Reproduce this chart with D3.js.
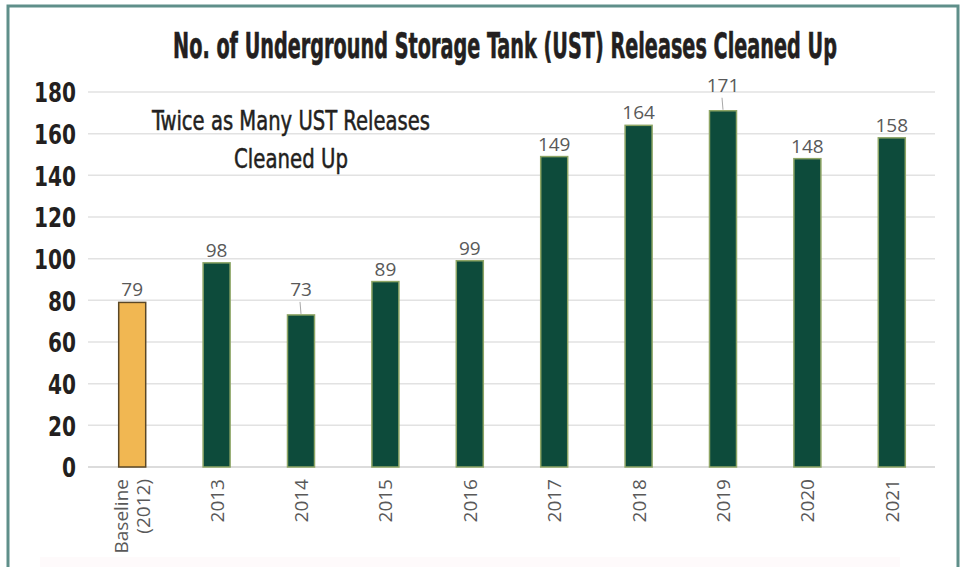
<!DOCTYPE html>
<html>
<head>
<meta charset="utf-8">
<script src="https://cdn.jsdelivr.net/npm/d3@7"></script>
<style>
  body { margin: 0; background: #fff; }
  svg { display: block; }
</style>
</head>
<body>
<svg id="chart" width="964" height="567"></svg>
<script>
// data
var categories = ["Baseline|(2012)", "2013", "2014", "2015", "2016", "2017", "2018", "2019", "2020", "2021"];
var released = [79, 98, 73, 89, 99, 149, 164, 171, 148, 158];
var yTicks = [0, 20, 40, 60, 80, 100, 120, 140, 160, 180];
var leaderCats = ["2014", "2019"];   // labels lifted a bit, with a small leader line
var title = "No. of Underground Storage Tank (UST) Releases Cleaned Up";
var note = ["Twice as Many UST Releases", "Cleaned Up"];

var condensed = "'DejaVu Sans Condensed', 'Liberation Sans Narrow', 'Roboto', sans-serif";
var plain = "'Open Sans', 'Noto Sans', sans-serif";

var svg = d3.select("#chart");

// squeeze a centred text to a given width with a horizontal scale
function fitText(sel, cx, cy, width) {
    var w = sel.node().getComputedTextLength();
    var k = Math.min(1, width / w);
    sel.attr("x", 0).attr("y", 0)
        .attr("transform", "translate(" + cx + "," + cy + ") scale(" + k + ",1)");
}

// frame
svg.append("rect").attr("x", 0).attr("y", 0).attr("width", 964).attr("height", 567).attr("fill", "#fff");
svg.append("rect").attr("x", 40).attr("y", 557).attr("width", 860).attr("height", 10).attr("fill", "#fefafb");
svg.append("path")
    .attr("d", "M8,567 V6 H958 V567")
    .attr("fill", "none")
    .attr("stroke", "#5f8f8a")
    .attr("stroke-width", 3);

var x = d3.scaleBand()
    .domain(categories)
    .range([90, 934])
    .paddingInner(0.68)
    .paddingOuter(0.34);

var y = d3.scaleLinear()
    .domain([0, 180])
    .range([467, 92]);

// grid
svg.append("g")
    .selectAll("line")
    .data(yTicks)
    .join("line")
    .attr("x1", 88).attr("x2", 935)
    .attr("y1", function (d) { return y(d); })
    .attr("y2", function (d) { return y(d); })
    .attr("stroke", function (d) { return d === 0 ? "#d0d0d0" : "#e2e2e2"; })
    .attr("stroke-width", 1.5);

// y axis labels
var yAxis = d3.axisLeft(y).tickValues(yTicks).tickSize(0).tickPadding(0);
var yg = svg.append("g").attr("transform", "translate(76,0)").call(yAxis);
yg.select(".domain").remove();
yg.selectAll("text")
    .attr("font-family", condensed)
    .attr("font-weight", "bold")
    .attr("font-size", 27)
    .attr("fill", "#231f20")
    .attr("dy", "0.36em")
    .attr("textLength", function (d) { return String(d).length * 14; })
    .attr("lengthAdjust", "spacingAndGlyphs");

// bars
svg.append("g")
    .selectAll("rect")
    .data(released)
    .join("rect")
    .attr("x", function (d, i) { return x(categories[i]); })
    .attr("width", x.bandwidth())
    .attr("y", function (d) { return y(d); })
    .attr("height", function (d) { return y(0) - y(d); })
    .attr("fill", function (d, i) { return i === 0 ? "#f1b752" : "#0d4b3b"; })
    .attr("stroke", function (d, i) { return i === 0 ? "#5a4726" : "#8ea565"; })
    .attr("stroke-width", 1.5);

// value labels
function hasLeader(i) { return leaderCats.indexOf(categories[i]) >= 0; }
var lbl = svg.append("g");
released.forEach(function (d, i) {
    var cx = x(categories[i]) + x.bandwidth() / 2;
    if (hasLeader(i)) {
        lbl.append("line")
            .attr("x1", cx).attr("x2", cx - 1)
            .attr("y1", y(d) - 1).attr("y2", y(d) - 13)
            .attr("stroke", "#a8a8a8")
            .attr("stroke-width", 1);
    }
    lbl.append("text")
        .attr("x", cx)
        .attr("y", y(d) - (hasLeader(i) ? 19 : 6))
        .attr("text-anchor", "middle")
        .attr("font-family", plain)
        .attr("font-size", 19)
        .attr("fill", "#595959")
        .text(d);
});

// x labels, rotated
var xg = svg.append("g");
categories.forEach(function (c, i) {
    var lines = c.split("|");
    var cx = x(c) + x.bandwidth() / 2;
    lines.forEach(function (t, k) {
        var off = (k - (lines.length - 1) / 2) * 22;
        xg.append("text")
            .attr("transform", "translate(" + (cx + off + 7) + ",479) rotate(-90)")
            .attr("text-anchor", "end")
            .attr("font-family", plain)
            .attr("font-size", 19)
            .attr("fill", "#595959")
            .text(t);
    });
});

// title
var t = svg.append("text")
    .attr("text-anchor", "middle")
    .attr("font-family", condensed)
    .attr("font-weight", "bold")
    .attr("font-size", 35)
    .attr("fill", "#231f20")
    .attr("stroke", "#231f20")
    .attr("stroke-width", 0.6)
    .text(title);
fitText(t, 505, 58, 664);

// annotation
[0, 1].forEach(function (k) {
    var n = svg.append("text")
        .attr("text-anchor", "middle")
        .attr("font-family", condensed)
        .attr("font-size", 26)
        .attr("fill", "#231f20")
        .attr("stroke", "#231f20")
        .attr("stroke-width", 0.5)
        .text(note[k]);
    fitText(n, 291, k === 0 ? 130 : 168, k === 0 ? 278 : 114);
});
</script>
</body>
</html>
